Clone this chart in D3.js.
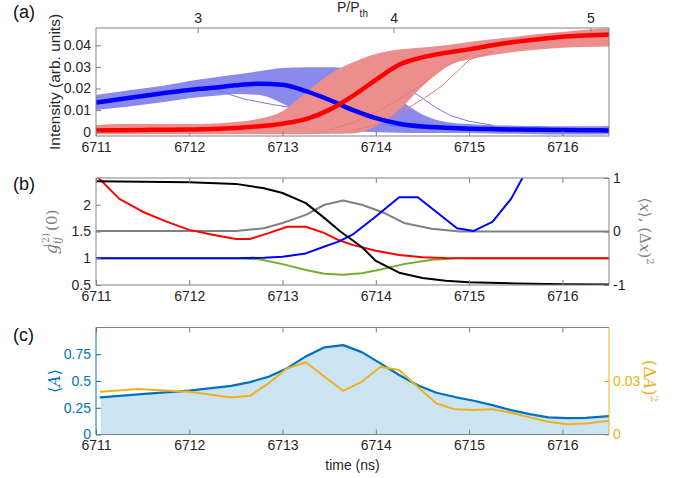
<!DOCTYPE html>
<html>
<head>
<meta charset="utf-8">
<script src="https://d3js.org/d3.v7.min.js"></script>
<style>
body { margin: 0; background: #fff; }
svg { display: block; font-family: "Liberation Sans", Arial, Helvetica, sans-serif; }
.tick text { font-size: 14px; fill: #262626; }
</style>
</head>
<body>
<svg width="677" height="478"></svg>
<script>
// ---- data ---------------------------------------------------------
var xTicks = [6711, 6712, 6713, 6714, 6715, 6716];
var pumpTicks = [3, 4, 5];
var pumpTickTimes = [6712.09, 6714.19, 6716.30];

// (a) intensities on a 0.25 ns grid
var tA = [6711, 6711.25, 6711.5, 6711.75, 6712, 6712.25, 6712.5, 6712.75, 6713, 6713.25, 6713.5, 6713.75,
          6714, 6714.25, 6714.5, 6714.75, 6715, 6715.25, 6715.5, 6715.75, 6716, 6716.25, 6716.5];
var blueMean  = [.0135, .0150, .0165, .0180, .0193, .0203, .0215, .0222, .0217, .0188, .0148, .0101,
                 .0063, .0037, .0024, .0018, .0014, .0012, .0010, .0009, .0008, .0007, .0006];
var blueUpper = [.0170, .0185, .0200, .0215, .0235, .0250, .0265, .0280, .0295, .0298, .0298, .0290,
                 .0245, .0150, .0080, .0045, .0035, .0030, .0028, .0026, .0025, .0025, .0026];
var blueLower = [.0100, .0112, .0125, .0138, .0155, .0165, .0175, .0170, .0130, .0070, .0030, .0005,
                 -.0003, -.0005, -.0006, -.0006, -.0006, -.0008, -.0010, -.0012, -.0013, -.0013, -.0012];
var redMean   = [.0006, .0007, .0008, .0009, .0010, .0012, .0017, .0025, .0037, .0058, .0101, .0165,
                 .0240, .0310, .0344, .0365, .0381, .0400, .0416, .0428, .0439, .0445, .0450];
var redUpper  = [.0030, .0035, .0035, .0035, .0035, .0038, .0045, .0060, .0095, .0180, .0265, .0320,
                 .0360, .0380, .0390, .0400, .0415, .0428, .0440, .0452, .0462, .0472, .0478];
var redLower  = [-.0012, -.0012, -.0012, -.0012, -.0012, -.0012, -.0012, -.0012, -.0012, -.0012, -.0010, -.0008,
                 .0025, .0100, .0210, .0300, .0335, .0355, .0370, .0380, .0388, .0392, .0394];
// a few stray traces
var blueStray1T = [6712.3, 6712.6, 6712.9, 6713.2, 6713.5, 6713.8, 6714.1, 6714.5];
var blueStray1  = [.0190, .0150, .0125, .0105, .0085, .0060, .0030, .0015];
var blueStray2T = [6713.6, 6714, 6714.25, 6714.45, 6714.65, 6714.8, 6715, 6715.25];
var blueStray2  = [.0290, .0260, .0215, .0170, .0110, .0075, .0048, .0030];
var redStray1T  = [6713.75, 6714, 6714.25, 6714.5, 6714.7, 6714.85, 6715, 6715.25];
var redStray1   = [.0005, .0032, .0085, .0150, .0209, .0270, .0332, .0370];
var redStray2T  = [6713.5, 6713.75, 6714, 6714.25, 6714.5, 6714.75, 6715];
var redStray2   = [.0010, .0040, .0090, .0150, .0220, .0300, .0360];

// (b) correlations (left axis) and moments (right axis)
var gRedT   = [6711, 6711.25, 6711.5, 6711.75, 6712, 6712.25, 6712.5, 6712.65, 6712.85, 6713.05, 6713.25,
               6713.45, 6713.6, 6713.75, 6714, 6714.25, 6714.5, 6714.75, 6715, 6716.5];
var gRed    = [2.55, 2.11, 1.87, 1.69, 1.53, 1.44, 1.36, 1.36, 1.47, 1.59, 1.59,
               1.47, 1.34, 1.25, 1.14, 1.06, 1.02, 1.005, 1.0, 1.0];
var gBlueT  = [6711, 6712.5, 6712.8, 6713, 6713.25, 6713.45, 6713.6, 6713.75, 6714, 6714.25, 6714.45,
               6714.87, 6715.05, 6715.25, 6715.45, 6715.65];
var gBlue   = [1.0, 1.0, 1.01, 1.03, 1.09, 1.22, 1.31, 1.44, 1.78, 2.14, 2.14,
               1.56, 1.51, 1.68, 2.11, 2.75];
var gGreenT = [6711, 6712.5, 6712.75, 6713, 6713.25, 6713.45, 6713.65, 6713.85, 6714.05, 6714.3, 6714.6, 6714.9, 6716.5];
var gGreen  = [1.0, 1.0, 0.98, 0.89, 0.78, 0.71, 0.69, 0.72, 0.79, 0.89, 0.97, 1.0, 1.0];
var xMeanT  = [6711, 6711.5, 6712, 6712.5, 6712.8, 6713, 6713.25, 6713.45, 6713.62, 6713.85, 6714,
               6714.25, 6714.5, 6714.75, 6715, 6715.5, 6716, 6716.5];
var xMean   = [0.94, 0.93, 0.92, 0.89, 0.81, 0.72, 0.53, 0.25, 0.0, -0.29, -0.55,
               -0.77, -0.87, -0.92, -0.95, -0.97, -0.985, -0.99];
var xVarT   = [6711, 6712.5, 6712.8, 6713, 6713.25, 6713.45, 6713.65, 6713.85, 6714.1, 6714.3, 6714.6, 6714.9, 6716.5];
var xVar    = [0.01, 0.01, 0.06, 0.16, 0.31, 0.50, 0.58, 0.50, 0.34, 0.16, 0.05, 0.0, 0.0];

// (c) amplitude mean and variance
var tC = [6711.05, 6711.45, 6712, 6712.45, 6712.65, 6712.85, 6713.05, 6713.25, 6713.45, 6713.65, 6713.85, 6714.05,
          6714.25, 6714.45, 6714.65, 6714.85, 6715.05, 6715.25, 6715.45, 6715.65, 6715.85, 6716.05, 6716.25, 6716.5];
var ampMean = [0.347, 0.375, 0.41, 0.455, 0.49, 0.54, 0.62, 0.73, 0.815, 0.835, 0.77, 0.665,
               0.556, 0.46, 0.39, 0.35, 0.315, 0.275, 0.228, 0.19, 0.16, 0.153, 0.155, 0.172];
var ampVar  = [0.024, 0.0255, 0.024, 0.0208, 0.0217, 0.0287, 0.0371, 0.0405, 0.0324, 0.0245, 0.0296, 0.038,
               0.0362, 0.0268, 0.0174, 0.0141, 0.0137, 0.0141, 0.0122, 0.0096, 0.0071, 0.0058, 0.0062, 0.0077];

// ---- setup --------------------------------------------------------
var svg = d3.select('svg');
var left = 96, right = 609;
var boxColor = '#808080';
var blueC = '#0072BD', orangeC = '#EDB120';

var x = d3.scaleLinear().domain([6711, 6716.5]).range([left, right]);

var pan = {
    a: { top: 28, bottom: 136 },
    b: { top: 178, bottom: 285 },
    c: { top: 327.5, bottom: 434.5 }
};

var yA  = d3.scaleLinear().domain([-0.002, 0.048]).range([pan.a.bottom, pan.a.top]);
var yB  = d3.scaleLinear().domain([0.5, 2.5]).range([pan.b.bottom, pan.b.top]);
var yB2 = d3.scaleLinear().domain([-1, 1]).range([pan.b.bottom, pan.b.top]);
var yC  = d3.scaleLinear().domain([0, 1]).range([pan.c.bottom, pan.c.top]);
var yC2 = d3.scaleLinear().domain([0, 0.06]).range([pan.c.bottom, pan.c.top]);

var defs = svg.append('defs');
Object.keys(pan).forEach(k => {
    defs.append('clipPath').attr('id', 'clip-' + k)
        .append('rect')
        .attr('x', left).attr('y', pan[k].top)
        .attr('width', right - left).attr('height', pan[k].bottom - pan[k].top);
});

function pts(ts, vs) { return ts.map((t, i) => ({ t: t, v: vs[i] })); }

function drawLine(g, data, yScale, color, width) {
    g.append('path')
        .datum(data)
        .attr('fill', 'none')
        .attr('stroke', color)
        .attr('stroke-width', width)
        .attr('stroke-linejoin', 'round')
        .attr('stroke-linecap', 'round')
        .attr('d', d3.line().x(d => x(d.t)).y(d => yScale(d.v)));
}

function band(g, ts, lo, hi, yScale, color) {
    var data = ts.map((t, i) => ({ t: t, lo: lo[i], hi: hi[i] }));
    g.append('path')
        .datum(data)
        .attr('fill', color)
        .attr('d', d3.area().curve(d3.curveMonotoneX)
            .x(d => x(d.t)).y0(d => yScale(d.lo)).y1(d => yScale(d.hi)));
}

function cleanAxis(g, color) {
    g.select('.domain').remove();
    g.selectAll('.tick line').attr('stroke', color);
}

function bottomAxis(p, mirrorTop) {
    svg.append('g')
        .attr('transform', `translate(0,${p.bottom})`)
        .call(d3.axisBottom(x).tickValues(xTicks).tickSize(-5).tickPadding(6).tickFormat(d3.format('d')))
        .call(g => cleanAxis(g, boxColor));
    if (mirrorTop) {
        svg.append('g')
            .attr('transform', `translate(0,${p.top})`)
            .call(d3.axisTop(x).tickValues(xTicks).tickSize(-5).tickFormat(''))
            .call(g => cleanAxis(g, boxColor));
    }
}

function leftAxis(scale, ticks, fmt, color) {
    return svg.append('g')
        .attr('transform', `translate(${left},0)`)
        .call(d3.axisLeft(scale).tickValues(ticks).tickSize(-5).tickPadding(5).tickFormat(fmt))
        .call(g => cleanAxis(g, color || boxColor));
}

function rightAxis(scale, ticks, fmt, color) {
    return svg.append('g')
        .attr('transform', `translate(${right},0)`)
        .call(d3.axisRight(scale).tickValues(ticks).tickSize(-5).tickPadding(4).tickFormat(fmt))
        .call(g => cleanAxis(g, color || boxColor));
}

function boxLines(p, cl, cr) {
    var g = svg.append('g').attr('fill', 'none').attr('stroke-width', 1);
    g.append('line').attr('x1', left).attr('x2', right).attr('y1', p.top).attr('y2', p.top).attr('stroke', boxColor);
    g.append('line').attr('x1', left).attr('x2', right).attr('y1', p.bottom).attr('y2', p.bottom).attr('stroke', boxColor);
    g.append('line').attr('x1', left).attr('x2', left).attr('y1', p.top).attr('y2', p.bottom).attr('stroke', cl || boxColor);
    g.append('line').attr('x1', right).attr('x2', right).attr('y1', p.top).attr('y2', p.bottom).attr('stroke', cr || boxColor);
}

function panelLetter(txt, y) {
    svg.append('text').attr('x', 13).attr('y', y)
        .style('font-size', '18px').attr('fill', '#111').text(txt);
}

// ---- (a) ----------------------------------------------------------
var gA = svg.append('g').attr('clip-path', 'url(#clip-a)');
band(gA, tA, blueLower, blueUpper, yA, '#8a8aec');
drawLine(gA, pts(blueStray1T, blueStray1), yA, '#7878e8', 1);
drawLine(gA, pts(blueStray2T, blueStray2), yA, '#7878e8', 1);
band(gA, tA, redLower, redUpper, yA, '#ec8e8e');
drawLine(gA, pts(redStray1T, redStray1), yA, '#e87878', 1);
drawLine(gA, pts(redStray2T, redStray2), yA, '#e87878', 1);
gA.append('path').datum(pts(tA, blueMean))
    .attr('fill', 'none').attr('stroke', '#0000ff').attr('stroke-width', 4.5)
    .attr('d', d3.line().curve(d3.curveMonotoneX).x(d => x(d.t)).y(d => yA(d.v)));
gA.append('path').datum(pts(tA, redMean))
    .attr('fill', 'none').attr('stroke', '#ff0000').attr('stroke-width', 4.5)
    .attr('d', d3.line().curve(d3.curveMonotoneX).x(d => x(d.t)).y(d => yA(d.v)));

bottomAxis(pan.a, false);
leftAxis(yA, [0, 0.01, 0.02, 0.03, 0.04], d => d === 0 ? '0' : d3.format('.2f')(d));
svg.append('g')
    .attr('transform', `translate(0,${pan.a.top})`)
    .call(d3.axisTop(x).tickValues(pumpTickTimes).tickSize(-5).tickPadding(5).tickFormat((d, i) => pumpTicks[i]))
    .call(g => cleanAxis(g, boxColor));
boxLines(pan.a);

var pLabel = svg.append('text').attr('x', (left + right) / 2).attr('y', 12)
    .attr('text-anchor', 'middle').style('font-size', '14px').attr('fill', '#262626');
pLabel.append('tspan').text('P/P');
pLabel.append('tspan').attr('dy', 5).style('font-size', '10px').text('th');

svg.append('text').attr('transform', 'translate(60,82) rotate(-90)')
    .attr('text-anchor', 'middle').style('font-size', '15.5px').attr('fill', '#262626')
    .text('Intensity (arb. units)');
panelLetter('(a)', 18);

// ---- (b) ----------------------------------------------------------
var gB = svg.append('g').attr('clip-path', 'url(#clip-b)');
drawLine(gB, pts(xVarT, xVar), yB2, '#808080', 2);
drawLine(gB, pts(gGreenT, gGreen), yB, '#77AC30', 2);
drawLine(gB, pts(gRedT, gRed), yB, '#ff0000', 2);
drawLine(gB, pts(gBlueT, gBlue), yB, '#0000ff', 2);
drawLine(gB, pts(xMeanT, xMean), yB2, '#000000', 2);

bottomAxis(pan.b, true);
leftAxis(yB, [0.5, 1, 1.5, 2], d => String(d));
rightAxis(yB2, [-1, 0, 1], d => String(d));
boxLines(pan.b);

var gLab = svg.append('text').attr('transform', 'translate(57,232) rotate(-90)')
    .attr('text-anchor', 'middle').attr('fill', '#808080')
    .style('font-family', '"DejaVu Serif", "Liberation Serif", serif').style('font-size', '16px');
gLab.append('tspan').style('font-style', 'italic').text('g');
gLab.append('tspan').style('font-style', 'italic').style('font-size', '11px').attr('dy', 4).text('ij');
gLab.append('tspan').style('font-size', '10px').attr('dx', -10).attr('dy', -12).text('(2)');
gLab.append('tspan').style('font-size', '15px').attr('dx', 2).attr('dy', 8).text('(0)');

var xLab = svg.append('text').attr('transform', 'translate(640,231) rotate(90)')
    .attr('text-anchor', 'middle').attr('fill', '#808080')
    .style('font-family', '"DejaVu Serif", "Liberation Serif", serif').style('font-size', '15px');
xLab.append('tspan').text('\u27E8');
xLab.append('tspan').style('font-style', 'italic').text('x');
xLab.append('tspan').text('\u27E9, (\u0394');
xLab.append('tspan').style('font-style', 'italic').text('x');
xLab.append('tspan').text(')');
xLab.append('tspan').style('font-size', '10px').attr('dy', -7).text('2');
panelLetter('(b)', 190);

// ---- (c) ----------------------------------------------------------
var gC = svg.append('g').attr('clip-path', 'url(#clip-c)');
var cData = pts(tC, ampMean);
gC.append('path').datum(cData)
    .attr('fill', blueC).attr('fill-opacity', 0.2)
    .attr('d', d3.area().x(d => x(d.t)).y0(yC(0)).y1(d => yC(d.v)));
drawLine(gC, cData, yC, blueC, 2.2);
drawLine(gC, pts(tC, ampVar), yC2, orangeC, 2);

bottomAxis(pan.c, true);
var la = leftAxis(yC, [0, 0.25, 0.5, 0.75], d => String(d), blueC);
la.selectAll('.tick text').style('fill', blueC);
var ra = rightAxis(yC2, [0, 0.03], d => String(d), orangeC);
ra.selectAll('.tick text').style('fill', orangeC);
boxLines(pan.c, blueC, orangeC);

svg.append('text').attr('x', (left + right) / 2).attr('y', 470)
    .attr('text-anchor', 'middle').style('font-size', '14px').attr('fill', '#262626')
    .text('time (ns)');

var aLab = svg.append('text').attr('transform', 'translate(60,381) rotate(-90)')
    .attr('text-anchor', 'middle').attr('fill', blueC)
    .style('font-family', '"DejaVu Serif", "Liberation Serif", serif').style('font-size', '16px');
aLab.append('tspan').text('\u27E8');
aLab.append('tspan').style('font-style', 'italic').text('A');
aLab.append('tspan').text('\u27E9');

var vLab = svg.append('text').attr('transform', 'translate(644,381) rotate(90)')
    .attr('text-anchor', 'middle').attr('fill', orangeC)
    .style('font-family', '"DejaVu Serif", "Liberation Serif", serif').style('font-size', '16px');
vLab.append('tspan').text('(\u0394');
vLab.append('tspan').style('font-style', 'italic').text('A');
vLab.append('tspan').text(')');
vLab.append('tspan').style('font-size', '10px').attr('dy', -7).text('2');
panelLetter('(c)', 341);
</script>
</body>
</html>
